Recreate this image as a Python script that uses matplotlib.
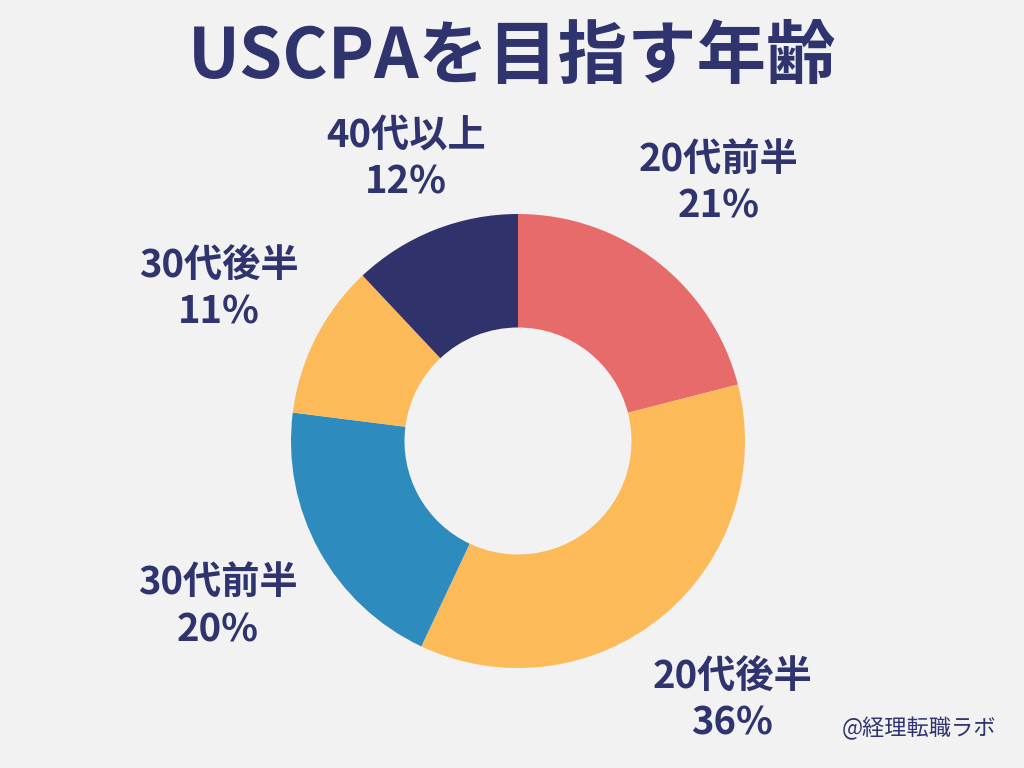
import matplotlib.pyplot as plt
import numpy as np

plt.rcParams['font.family'] = ['Noto Sans CJK JP', 'DejaVu Sans']

# data
categories = ['20代前半', '20代後半', '30代前半', '30代後半', '40代以上']
shares = [21, 36, 20, 11, 12]
colors = ['#E86B6B', '#FDBA58', '#2E8BBD', '#FDBA58', '#30336B']
label_dist = [1.44, 1.48, 1.51, 1.48, 1.34]

navy = '#2F346E'

fig = plt.figure(figsize=(10.24, 7.68), dpi=100, facecolor='#F2F2F2')
ax = fig.add_axes([0.0, 0.0, 1.0, 1.0])
ax.set_facecolor('#F2F2F2')

wedges, _ = ax.pie(shares, colors=colors, startangle=90, counterclock=False,
                   radius=1.0, wedgeprops=dict(width=0.5, linewidth=0),
                   center=(0, 0))

# donut centre at (518, 441) px, outer radius 227 px
ax.set_xlim(-518 / 227, (1024 - 518) / 227)
ax.set_ylim(-(768 - 441) / 227, 441 / 227)
ax.set_aspect('equal')
ax.axis('off')

# labels around ring
cum = np.cumsum([0] + shares[:-1])
for cat, val, start, d in zip(categories, shares, cum, label_dist):
    mid = (start + val / 2) / 100 * 2 * np.pi
    x = d * np.sin(mid)
    y = d * np.cos(mid)
    ax.text(x, y, f'{cat}\n{val}%', ha='center', va='center',
            fontsize=27.5, fontweight='bold', color=navy, linespacing=1.25)

fig.text(0.5, 0.925, 'USCPAを目指す年齢', ha='center', va='center',
         fontsize=50, fontweight='bold', color=navy)
fig.text(0.897, 0.052, '@経理転職ラボ', ha='center', va='center',
         fontsize=16, color=navy)

fig.savefig('out.png', dpi=100, facecolor=fig.get_facecolor())
